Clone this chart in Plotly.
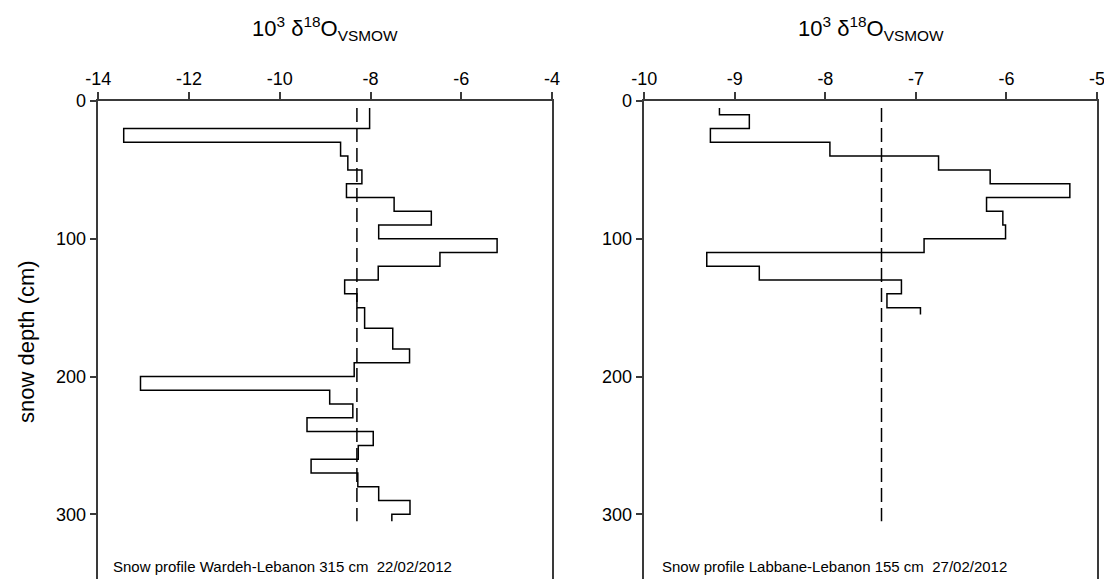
import plotly.graph_objects as go

# ---- data ----
wardeh_depth_bounds = [5, 20, 30, 40, 50, 60, 70, 80, 90, 100, 110, 120, 130, 140, 150,
                       165, 180, 190, 200, 210, 220, 230, 240, 250, 260, 270, 280, 290, 300, 305]
wardeh_d18o = [-8.02, -13.44, -8.66, -8.50, -8.19, -8.53, -7.48, -6.66, -7.82, -5.21,
               -6.47, -7.83, -8.57, -8.30, -8.13, -7.51, -7.14, -8.36, -13.07, -8.90,
               -8.39, -9.40, -7.94, -8.27, -9.31, -8.28, -7.82, -7.13, -7.53]
wardeh_mean = -8.30

labbane_depth_bounds = [5, 10, 20, 30, 40, 50, 60, 70, 80, 90, 100, 110, 120, 130, 140, 150, 155]
labbane_d18o = [-9.17, -8.84, -9.27, -7.95, -6.75, -6.18, -5.30, -6.22, -6.04, -6.01,
                -6.91, -9.31, -8.73, -7.16, -7.32, -6.95]
labbane_mean = -7.38

mean_depth = [5, 305]

left_xticks = [-14, -12, -10, -8, -6, -4]
right_xticks = [-10, -9, -8, -7, -6, -5]
depth_ticks = [0, 100, 200, 300]

left_label = "Snow profile Wardeh-Lebanon 315 cm\u00a0 22/02/2012"
right_label = "Snow profile Labbane-Lebanon 155 cm\u00a0 27/02/2012"
x_title = "10<sup>3</sup> \u03b4<sup>18</sup>O<sub>VSMOW</sub>"
y_title = "snow depth (cm)"

FONT = "Arial, 'Liberation Sans', sans-serif"
AX = "#3a3a3a"

W, H = 1104, 579
T = 101
fig = go.Figure()

fig.add_trace(go.Scatter(x=wardeh_d18o + [wardeh_d18o[-1]], y=wardeh_depth_bounds,
                         mode="lines", line=dict(color="black", width=1.5, shape="vh"),
                         xaxis="x", yaxis="y", showlegend=False))
fig.add_trace(go.Scatter(x=[wardeh_mean, wardeh_mean], y=mean_depth, mode="lines",
                         line=dict(color="black", width=1.5, dash="14px,6px"),
                         xaxis="x", yaxis="y", showlegend=False))
fig.add_trace(go.Scatter(x=labbane_d18o + [labbane_d18o[-1]], y=labbane_depth_bounds,
                         mode="lines", line=dict(color="black", width=1.5, shape="vh"),
                         xaxis="x2", yaxis="y2", showlegend=False))
fig.add_trace(go.Scatter(x=[labbane_mean, labbane_mean], y=mean_depth, mode="lines",
                         line=dict(color="black", width=1.5, dash="14px,6px"),
                         xaxis="x2", yaxis="y2", showlegend=False))

d1 = [98.3 / W, 552 / W]
d2 = [644.3 / W, 1097 / W]

xcommon = dict(side="top", showline=True, linecolor=AX, linewidth=1.5, ticks="outside",
               ticklen=7, tickwidth=1.5, tickcolor=AX, showgrid=False, zeroline=False,
               tickfont=dict(family=FONT, size=18, color="black"), mirror=False,
               automargin=False, ticklabeloverflow="allow")
ycommon = dict(range=[347, 0], showline=True, linecolor=AX, linewidth=1.5, ticks="outside",
               ticklen=7, tickwidth=1.5, tickcolor=AX, showgrid=False, zeroline=False,
               tickfont=dict(family=FONT, size=18, color="black"), mirror=True,
               tickvals=depth_ticks, ticktext=[str(v) for v in depth_ticks],
               automargin=False)

fig.update_layout(
    width=W, height=H,
    margin=dict(l=0, r=0, t=T, b=0),
    paper_bgcolor="white", plot_bgcolor="white",
    xaxis=dict(domain=d1, range=[-14, -4], tickvals=left_xticks,
               ticktext=[str(v) for v in left_xticks], anchor="y", **xcommon),
    yaxis=dict(domain=[0, 1], anchor="x", **ycommon),
    xaxis2=dict(domain=d2, range=[-10, -5], tickvals=right_xticks,
                ticktext=[str(v) for v in right_xticks], anchor="y2", **xcommon),
    yaxis2=dict(domain=[0, 1], anchor="x2", **ycommon),
    font=dict(family=FONT, color="black"),
)

ph = H - T
def py(pix):
    return (H - pix) / ph

anns = [
    dict(text=x_title, x=(d1[0] + d1[1]) / 2, y=py(28), xref="paper", yref="paper",
         showarrow=False, font=dict(size=22, family=FONT), xanchor="center", yanchor="middle"),
    dict(text=x_title, x=(d2[0] + d2[1]) / 2, y=py(28), xref="paper", yref="paper",
         showarrow=False, font=dict(size=22, family=FONT), xanchor="center", yanchor="middle"),
    dict(text=y_title, x=26 / W, y=py(342), xref="paper", yref="paper", textangle=-90,
         showarrow=False, font=dict(size=22, family=FONT), xanchor="center", yanchor="middle"),
    dict(text=left_label, x=111 / W, y=py(566), xref="paper", yref="paper",
         showarrow=False, font=dict(size=15, family=FONT), xanchor="left", yanchor="middle"),
    dict(text=right_label, x=660 / W, y=py(566), xref="paper", yref="paper",
         showarrow=False, font=dict(size=15, family=FONT), xanchor="left", yanchor="middle"),
]
fig.update_layout(annotations=anns)

fig.write_html("out.html")
